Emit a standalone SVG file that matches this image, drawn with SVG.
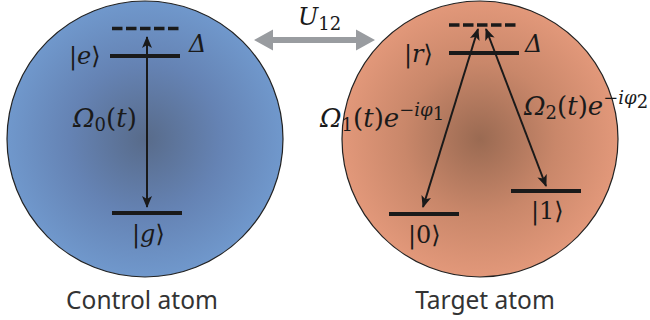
<svg xmlns="http://www.w3.org/2000/svg" width="650" height="320" viewBox="0 0 650 320">
<defs>
<radialGradient id="gBlue" cx="0.5" cy="0.5" r="0.5">
<stop offset="0" stop-color="#586b8a"/>
<stop offset="0.55" stop-color="#6583b4"/>
<stop offset="1" stop-color="#7098cc"/>
</radialGradient>
<radialGradient id="gOrange" cx="0.5" cy="0.5" r="0.5">
<stop offset="0" stop-color="#9a6a52"/>
<stop offset="0.55" stop-color="#c9876a"/>
<stop offset="1" stop-color="#e2987a"/>
</radialGradient>
<marker id="tip" viewBox="0 0 12 10" refX="11" refY="5" markerWidth="12" markerHeight="10" orient="auto-start-reverse" markerUnits="userSpaceOnUse">
<path d="M0,0 L12,5 L0,10 L3,5 Z" fill="#1a1a1a"/>
</marker>
</defs>
<style>
.atom{stroke:#222;stroke-width:1.2}
.lvl{stroke:#1a1a1a;stroke-width:4;fill:none}
.dash{stroke:#1a1a1a;stroke-width:3.3;stroke-dasharray:10.5 3.5;fill:none}
.tr{stroke:#1a1a1a;stroke-width:2;fill:none;marker-start:url(#tip);marker-end:url(#tip)}
.m{font-family:"DejaVu Serif","Liberation Serif",serif;font-style:italic;font-size:22px;fill:#1a1a1a}
.k{font-size:24px}
.big{font-size:26px}
.u{font-style:normal}
.s{font-size:16px;font-style:normal}
.s2{font-size:18px}
.cap{font-family:"Noto Sans","Open Sans",sans-serif;font-size:24.5px;fill:#333}
</style>
<g id="control-atom">
<circle class="atom" cx="145" cy="139" r="138" fill="url(#gBlue)"/>
<line class="dash" x1="112" y1="28.5" x2="179" y2="28.5"/>
<line class="lvl" x1="110" y1="56" x2="180" y2="56"/>
<line class="lvl" x1="112" y1="213" x2="182" y2="213"/>
<text class="m k" x="69" y="64"><tspan class="u">|</tspan>e<tspan class="u">⟩</tspan></text>
<text class="m k" x="189" y="52">Δ</text>
<text class="m k" x="132" y="242"><tspan class="u">|</tspan>g<tspan class="u">⟩</tspan></text>
<text class="m big" x="73" y="127">Ω<tspan class="s s2" dy="4">0</tspan><tspan dy="-4" class="u">(</tspan>t<tspan class="u">)</tspan></text>
<text class="cap" x="142" y="309" text-anchor="middle">Control atom</text>
</g>
<g id="target-atom">
<circle class="atom" cx="480" cy="139" r="138" fill="url(#gOrange)"/>
<line class="dash" x1="449" y1="25" x2="516" y2="25"/>
<line class="lvl" x1="449" y1="53" x2="519" y2="53"/>
<line class="lvl" x1="389" y1="214" x2="459" y2="214"/>
<line class="lvl" x1="511" y1="191" x2="581" y2="191"/>
<text class="m k" x="404" y="62"><tspan class="u">|</tspan>r<tspan class="u">⟩</tspan></text>
<text class="m k" x="525" y="52">Δ</text>
<text class="m k" x="408" y="243"><tspan class="u">|0⟩</tspan></text>
<text class="m k" x="531" y="219"><tspan class="u">|1⟩</tspan></text>
<text class="cap" x="485" y="309" text-anchor="middle">Target atom</text>
</g>
<g id="connectors">
<line class="tr" x1="147" y1="37" x2="147" y2="207"/>
<line class="tr" x1="478" y1="29" x2="423" y2="207"/>
<line class="tr" x1="486" y1="29" x2="546" y2="186"/>
<g id="coupling">
<path d="M254,40 L273,29.5 L273,37 L356,37 L356,29.5 L375,40 L356,50.5 L356,43 L273,43 L273,50.5 Z" fill="#999ca0"/>
</g>
</g>
<g id="labels">
<text class="m k" x="298" y="25">U<tspan class="s s2" dy="5">12</tspan></text>
<text class="m big" x="320" y="127">Ω<tspan class="s s2" dy="4">1</tspan><tspan dy="-4" class="u">(</tspan>t<tspan class="u">)</tspan>e<tspan class="s2" dy="-11"><tspan class="u">−</tspan>iφ<tspan class="u" dy="4">1</tspan></tspan></text>
<text class="m big" x="524" y="115">Ω<tspan class="s s2" dy="4">2</tspan><tspan dy="-4" class="u">(</tspan>t<tspan class="u">)</tspan>e<tspan class="s2" dy="-11"><tspan class="u">−</tspan>iφ<tspan class="u" dy="4">2</tspan></tspan></text>
</g>
</svg>
